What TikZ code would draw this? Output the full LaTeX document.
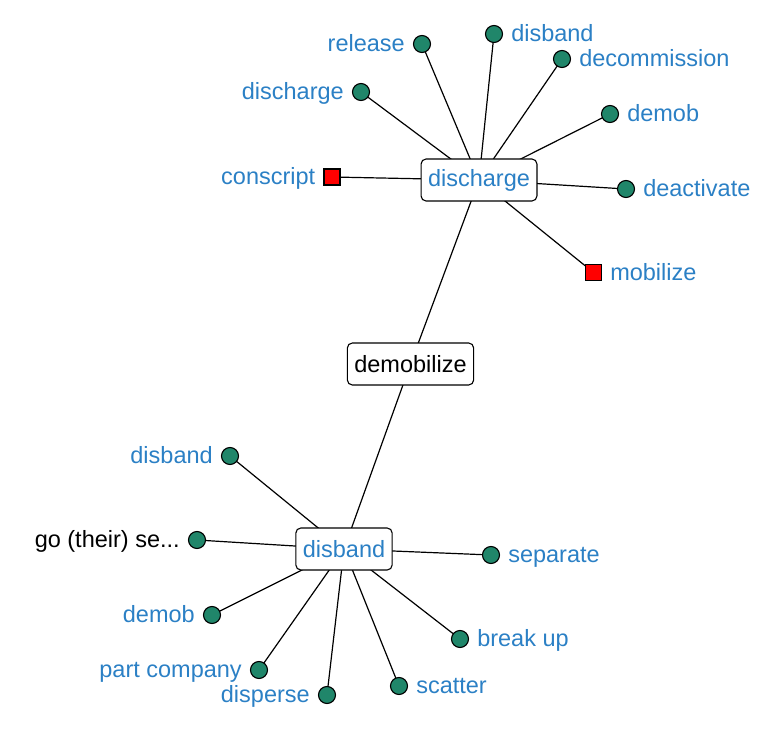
\documentclass[tikz,border=0pt]{standalone}
\usepackage{fontspec}
\setmainfont{Liberation Sans}
\usetikzlibrary{backgrounds}
\definecolor{lblue}{HTML}{2B80C5}
\definecolor{lgreen}{HTML}{20866A}
\tikzset{
  hub/.style={draw=black, line width=1.1pt, fill=white, rounded corners=5pt, minimum height=42pt, inner xsep=7pt, font=\fontsize{23.5}{27}\selectfont},
  leaf/.style={circle, draw=black, line width=1.1pt, fill=lgreen, minimum size=17pt, inner sep=0pt},
  sq/.style={rectangle, draw=black, line width=1.1pt, fill=red, minimum size=16pt, inner sep=0pt},
  lab/.style={text=lblue, inner sep=0pt, font=\fontsize{23.5}{27}\selectfont},
  edge/.style={draw=black, line width=1.2pt}
}
\begin{document}
\begin{tikzpicture}[x=1pt,y=-1pt]
\useasboundingbox (0,0) rectangle (766,730);
% hubs
\node[hub, text=lblue] (h1) at (479,180) {discharge};
\node[hub, text=black] (h0) at (410.5,364) {demobilize};
\node[hub, text=lblue] (h2) at (344,549) {disband};
% top leaves
\node[leaf] (a1) at (422,44) {};
\node[lab, anchor=mid east] (a1l) at ([xshift=-8pt,yshift=-5pt]a1.west) {release};
\node[leaf] (a2) at (494,34) {};
\node[lab, anchor=mid west] (a2l) at ([xshift=8pt,yshift=-5pt]a2.east) {disband};
\node[leaf] (a3) at (562,59) {};
\node[lab, anchor=mid west] (a3l) at ([xshift=8pt,yshift=-5pt]a3.east) {decommission};
\node[leaf] (a4) at (361,92) {};
\node[lab, anchor=mid east] (a4l) at ([xshift=-8pt,yshift=-5pt]a4.west) {discharge};
\node[leaf] (a5) at (610,114) {};
\node[lab, anchor=mid west] (a5l) at ([xshift=8pt,yshift=-5pt]a5.east) {demob};
\node[sq] (a6) at (332,177) {};
\node[lab, anchor=mid east] (a6l) at ([xshift=-8pt,yshift=-5pt]a6.west) {conscript};
\node[leaf] (a7) at (626,189) {};
\node[lab, anchor=mid west] (a7l) at ([xshift=8pt,yshift=-5pt]a7.east) {deactivate};
\node[sq] (a8) at (593.5,272.5) {};
\node[lab, anchor=mid west] (a8l) at ([xshift=8pt,yshift=-5pt]a8.east) {mobilize};
% bottom leaves
\node[leaf] (b1) at (230,456) {};
\node[lab, anchor=mid east] (b1l) at ([xshift=-8pt,yshift=-5pt]b1.west) {disband};
\node[leaf] (b2) at (197,540) {};
\node[lab, anchor=mid east, text=black] (b2l) at ([xshift=-8pt,yshift=-5pt]b2.west) {go (their) se...};
\node[leaf] (b3) at (491,555) {};
\node[lab, anchor=mid west] (b3l) at ([xshift=8pt,yshift=-5pt]b3.east) {separate};
\node[leaf] (b4) at (212,615) {};
\node[lab, anchor=mid east] (b4l) at ([xshift=-8pt,yshift=-5pt]b4.west) {demob};
\node[leaf] (b5) at (460,639) {};
\node[lab, anchor=mid west] (b5l) at ([xshift=8pt,yshift=-5pt]b5.east) {break up};
\node[leaf] (b6) at (259,670) {};
\node[lab, anchor=mid east] (b6l) at ([xshift=-8pt,yshift=-5pt]b6.west) {part company};
\node[leaf] (b7) at (327,695) {};
\node[lab, anchor=mid east] (b7l) at ([xshift=-8pt,yshift=-5pt]b7.west) {disperse};
\node[leaf] (b8) at (399,686) {};
\node[lab, anchor=mid west] (b8l) at ([xshift=8pt,yshift=-5pt]b8.east) {scatter};
\begin{pgfonlayer}{background}
\foreach \n in {a1,a2,a3,a4,a5,a6,a7,a8} \draw[edge] (h1.center) -- (\n.center);
\foreach \n in {b1,b2,b3,b4,b5,b6,b7,b8} \draw[edge] (h2.center) -- (\n.center);
\draw[edge] (h0.center) -- (h1.center);
\draw[edge] (h0.center) -- (h2.center);
\end{pgfonlayer}
\end{tikzpicture}
\end{document}
